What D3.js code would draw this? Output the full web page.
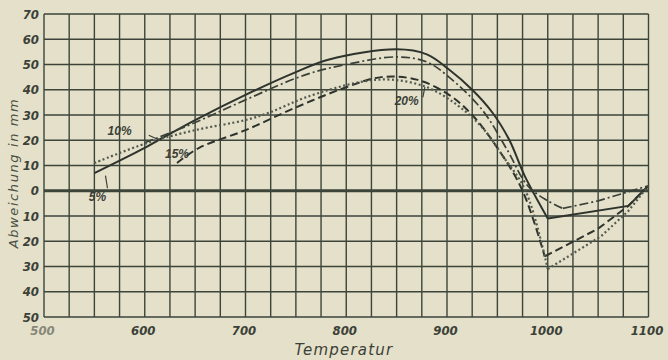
<!DOCTYPE html>
<html>
<head>
<meta charset="utf-8">
<script src="https://cdn.jsdelivr.net/npm/d3@7"></script>
<style>
  html, body { margin: 0; padding: 0; background: #e4e0c9; }
  svg { display: block; }
  .tick-label { font-family: "Liberation Sans Narrow", "DejaVu Sans Condensed", sans-serif; font-style: italic; font-weight: bold; fill: #3b4038; }
</style>
</head>
<body>
<div id="chart"></div>
<script>
// temperature axis and deviation axis ticks
const xTicks = [500, 600, 700, 800, 900, 1000, 1100];
const yTicks = [70, 60, 50, 40, 30, 20, 10, 0, -10, -20, -30, -40, -50];

// 5 % curve (solid)
const t5 = [550, 600, 618, 650, 700, 750, 783, 850, 880, 902, 925, 945, 962, 977, 1000, 1080, 1100];
const v5 = [7, 17, 21, 28, 38, 47, 52, 56, 54, 48, 40, 31, 20, 6, -11, -6, 2];
// 10 % curve (dash-dot)
const t10 = [600, 650, 700, 760, 800, 850, 880, 902, 935, 960, 980, 1000, 1015, 1050, 1100];
const v10 = [19, 27, 36, 46, 50, 53, 51, 45, 32, 16, 2, -4, -7, -4, 2];
// 15 % curve (dashed)
const t15 = [632, 654, 700, 750, 800, 835, 870, 902, 925, 950, 975, 997, 1050, 1080, 1100];
const v15 = [11, 17, 24, 33, 41, 45, 44, 38, 30, 17, 0, -26, -15, -6, 2];
// 20 % curve (dotted)
const t20 = [550, 603, 650, 700, 724, 760, 813, 845, 880, 910, 935, 955, 978, 1000, 1053, 1080, 1100];
const v20 = [11, 19, 24, 28, 31, 37, 43, 44, 41, 34, 25, 14, 0, -31, -18, -8, 2];

const curveNames = ["5%", "10%", "15%", "20%"];

const width = 668, height = 360;
const svg = d3.select("#chart").append("svg")
    .attr("width", width)
    .attr("height", height);

const x = d3.scaleLinear().domain([500, 1100]).range([44, 648.5]);
const y = d3.scaleLinear().domain([70, -50]).range([14, 317]);

const ink = "#3d453b";

// grid: every 25 degrees and every 10 mm
const grid = svg.append("g").attr("class", "grid");
grid.selectAll(".vl")
    .data(d3.range(500, 1101, 25))
    .enter().append("line")
    .attr("x1", d => x(d)).attr("x2", d => x(d))
    .attr("y1", y(70)).attr("y2", y(-50))
    .attr("stroke", ink).attr("stroke-width", 1.4);
grid.selectAll(".hl")
    .data(d3.range(-50, 71, 10))
    .enter().append("line")
    .attr("x1", x(500)).attr("x2", x(1100))
    .attr("y1", d => y(d)).attr("y2", d => y(d))
    .attr("stroke", ink)
    .attr("stroke-width", d => d === 0 ? 2.8 : 1.4);

// axes (labels only, the grid draws the lines)
const xAxis = svg.append("g")
    .attr("transform", `translate(0, ${y(-50)})`)
    .call(d3.axisBottom(x).tickValues(xTicks).tickSize(0).tickPadding(9).tickFormat(d3.format("d")));
xAxis.select(".domain").remove();
xAxis.selectAll("text").attr("class", "tick-label").style("font-size", "13px")
    .attr("dx", -2)
    .style("opacity", d => d === 500 ? 0.55 : 1);

const yAxis = svg.append("g")
    .attr("transform", `translate(${x(500)}, 0)`)
    .call(d3.axisLeft(y).tickValues(yTicks).tickSize(0).tickPadding(5).tickFormat(d => Math.abs(d)));
yAxis.select(".domain").remove();
yAxis.selectAll("text").attr("class", "tick-label").style("font-size", "13px");

// axis titles
svg.append("text")
    .attr("x", 344).attr("y", 355)
    .attr("text-anchor", "middle")
    .style("font-family", "DejaVu Sans, sans-serif")
    .style("font-style", "italic")
    .style("font-size", "15px")
    .style("letter-spacing", "1.2px")
    .style("fill", "#3b4038")
    .text("Temperatur");

svg.append("text")
    .attr("transform", "translate(18, 173) rotate(-90)")
    .attr("text-anchor", "middle")
    .style("font-family", "DejaVu Sans, sans-serif")
    .style("font-style", "italic")
    .style("font-size", "13px")
    .style("letter-spacing", "1.6px")
    .style("fill", "#4a5046")
    .text("Abweichung in mm");

// curves: smooth up to the minimum near 1000, straight lines after it
const series = [
    { t: t5, v: v5, dash: null, w: 2.0, color: "#2e342d" },
    { t: t10, v: v10, dash: "9,3,2,3", w: 1.7, color: "#3a4037" },
    { t: t15, v: v15, dash: "8,4", w: 2.0, color: "#2e342d" },
    { t: t20, v: v20, dash: "2,2.5", w: 2.2, color: "#535a4f" }
];

const smooth = d3.line().x(d => x(d[0])).y(d => y(d[1])).curve(d3.curveCatmullRom.alpha(0.5));
const straight = d3.line().x(d => x(d[0])).y(d => y(d[1]));

series.forEach(s => {
    const pts = s.t.map((t, i) => [t, s.v[i]]);
    const k = d3.minIndex(s.v);
    [smooth(pts.slice(0, k + 1)), straight(pts.slice(k))].forEach(dPath => {
        svg.append("path")
            .attr("d", dPath)
            .attr("fill", "none")
            .attr("stroke", s.color)
            .attr("stroke-width", s.w)
            .attr("stroke-dasharray", s.dash);
    });
});

// curve labels with little pointers
const labelPos = [
    { name: curveNames[0], lx: 553, lv: -4, px: [[563, 1], [561, 6]] },
    { name: curveNames[1], lx: 575, lv: 22, px: [[604, 22], [615, 20]] },
    { name: curveNames[2], lx: 632, lv: 13, px: null },
    { name: curveNames[3], lx: 860, lv: 34, px: [[876, 37], [878, 41]] }
];
labelPos.forEach(l => {
    svg.append("text")
        .attr("x", x(l.lx)).attr("y", y(l.lv))
        .attr("text-anchor", "middle")
        .style("font-family", "Liberation Sans Narrow, sans-serif")
        .style("font-style", "italic")
        .style("font-weight", "bold")
        .style("font-size", "12px")
        .style("fill", "#3b4038")
        .text(l.name);
    if (l.px) {
        svg.append("path")
            .attr("d", straight(l.px))
            .attr("stroke", "#3b4038")
            .attr("stroke-width", 1.2);
    }
});
</script>
</body>
</html>
